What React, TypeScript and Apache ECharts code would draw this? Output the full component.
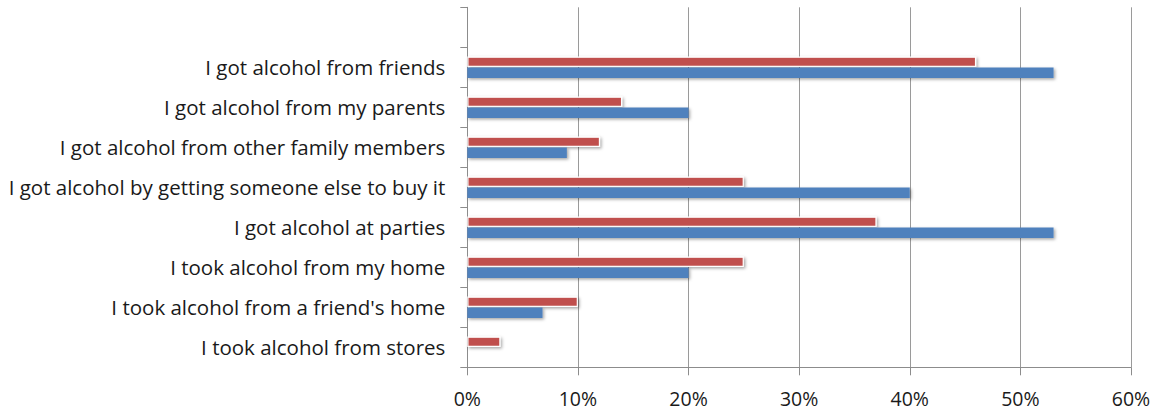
import React, { useEffect, useRef } from "react";
import * as echarts from "echarts";

const categories = [
  "",
  "I got alcohol from friends",
  "I got alcohol from my parents",
  "I got alcohol from other family members",
  "I got alcohol by getting someone else to buy it",
  "I got alcohol at parties",
  "I took alcohol from my home",
  "I took alcohol from a friend's home",
  "I took alcohol from stores",
];

const redValues = [null, 46, 14, 12, 25, 37, 25, 10, 3];
const blueValues = [null, 53, 20, 9, 40, 53, 20, 6.8, null];

const xTicks = [0, 10, 20, 30, 40, 50, 60];

export default function App() {
  const ref = useRef<HTMLDivElement>(null);
  useEffect(() => {
    if (!ref.current) return;
    const chart = echarts.init(ref.current, undefined, { renderer: "svg" });
    const font = "Open Sans";
    chart.setOption({
      animation: false,
      backgroundColor: "#ffffff",
      grid: { left: 467.3, right: 23, top: 7.3, bottom: 49.7, containLabel: false },
      xAxis: {
        type: "value",
        min: xTicks[0],
        max: xTicks[xTicks.length - 1],
        interval: 10,
        axisLine: { show: true, lineStyle: { color: "#8c8c8c", width: 1 } },
        axisTick: { show: true, length: 8, lineStyle: { color: "#8c8c8c" } },
        splitLine: { show: true, lineStyle: { color: "#9a9a9a", width: 1 } },
        axisLabel: {
          formatter: (v: number) => `${v}%`,
          fontFamily: font,
          fontSize: 19.5,
          color: "#1a1a1a",
          margin: 21,
        },
      },
      yAxis: {
        type: "category",
        inverse: true,
        data: categories,
        axisLine: { show: true, lineStyle: { color: "#8c8c8c", width: 1 } },
        axisTick: { show: true, length: 7, lineStyle: { color: "#8c8c8c" } },
        axisLabel: {
          fontFamily: font,
          fontSize: 20.5,
          color: "#1a1a1a",
          margin: 22,
        },
      },
      series: [
        {
          type: "bar",
          data: redValues,
          barWidth: 10.5,
          barGap: "5%",
          itemStyle: {
            color: "#C0504D",
            borderColor: "#ffffff",
            borderWidth: 1.2,
            shadowColor: "rgba(0,0,0,0.35)",
            shadowBlur: 3,
            shadowOffsetX: 1.5,
            shadowOffsetY: 1.5,
          },
        },
        {
          type: "bar",
          data: blueValues,
          barWidth: 10.5,
          barGap: "5%",
          itemStyle: {
            color: "#4F81BD",
            shadowColor: "rgba(0,0,0,0.35)",
            shadowBlur: 3,
            shadowOffsetX: 1.5,
            shadowOffsetY: 1.5,
          },
        },
      ],
    });
    return () => chart.dispose();
  }, []);
  return (
    <div
      ref={ref}
      style={{ position: "fixed", left: 0, top: 0, width: 1154, height: 417 }}
    />
  );
}
